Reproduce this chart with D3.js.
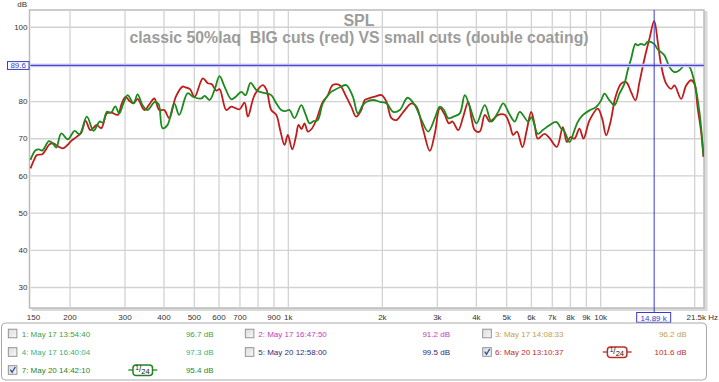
<!DOCTYPE html>
<html><head><meta charset="utf-8">
<script src="https://cdn.jsdelivr.net/npm/d3@7"></script>
<style>
html,body{margin:0;padding:0;background:#fff;}
svg{display:block;font-family:"Liberation Sans",Arial,sans-serif;}
</style></head><body>
<svg id="chart" width="719" height="382"></svg>
<script>
// ---------- data ----------
const redFreq=[150,154,157.2,163.6,167.6,172.7,177.8,183.1,190.5,197.1,202.6,210.2,218.1,225.1,233.1,239.7,244.1,252.7,263.4,272,285.6,293.5,302.3,311.3,320.7,330.3,347,360.8,373.5,387.5,402.1,417.2,438,460.2,470.4,486.3,502.6,534.5,554.5,570,590,604.4,635,658.9,680.1,700.6,726.8,744.7,782.3,831.8,854.7,885,918.2,947.6,975.9,1000,1033,1064,1082,1106,1131,1159,1191,1233,1294,1340,1393,1464,1538,1596,1655,1718,1764,1826,1899,1995,2070,2147,2228,2329,2489,2582,2713,2848,2956,3067,3181,3277,3367,3512,3643,3780,3873,3968,4117,4272,4432,4553,4716,4950,5136,5265,5415,5640,5808,6012,6161,6315,6632,6882,7265,7594,7821,8035,8275,8585,8844,9243,9824,10148,10452,10790,11194,11674,12112,12564,12972,13361,13862,14381,14890,15290,15679,16268,16877,17290,18167,18850,19556,20035,20530,21051,21410];
const redDb=[61.9,64.2,65.5,65.7,66.8,68.4,68.6,67.9,67.3,68.2,69.3,70.3,71.5,74.7,72.2,73.0,73.6,72.7,76.7,76.9,76.3,79.2,81.1,80.0,79.4,80.6,77.6,79.2,80.7,77.6,77.6,75.4,81.2,83.9,83.7,83.2,81.1,86.1,84.8,84.6,82.8,83.2,77.6,78.5,78.1,77.8,79.6,75.8,81.6,84.3,83.0,77.6,76.3,71.8,68.2,70.9,67.0,70.9,73.6,72.5,74.0,71.8,72.5,74.9,79.8,81.4,84.3,84.3,81.2,78.5,75.8,77.6,80.3,80.8,81.2,81.6,79.8,75.4,74.9,76.8,79.4,78.5,72.2,66.6,71.3,78.1,76.3,74.0,74.5,72.2,75.8,79.8,75.4,72.2,71.8,76.3,74.5,75.2,76.3,76.3,73.6,70.9,71.8,67.6,71.8,77.1,73.9,69.9,71.2,70.1,67.7,73.0,69.0,70.3,69.9,72.6,69.9,74.8,78.0,75.3,70.8,74.4,81.1,84.7,85.1,82.4,80.2,85.1,91.4,96.8,101.6,95.9,89.6,84.7,83.3,84.2,80.6,84.2,85.6,84.6,78.0,71.7,65.0];
const greenFreq=[150,155.7,159.6,163.6,171.8,176.9,181.4,188.2,197.6,207.6,215.4,227.3,238.8,249.6,255.7,263.4,272,280.2,288.6,297.9,306.9,320.7,330.3,342.7,355.6,375.2,385.6,397.1,412,432.9,449.1,477.5,499,528.3,541.3,561.5,582.6,604.4,627.1,658.9,680.1,709.3,732.2,759.7,792.2,817.8,853,885,918.2,952.6,981.1,1012,1050,1104,1139,1174,1209,1247,1294,1360,1411,1475,1538,1615,1675,1738,1786,1877,1971,2070,2175,2283,2417,2551,2679,2815,2956,3067,3162,3262,3392,3553,3687,3825,4018,4272,4487,4716,4893,5136,5329,5529,5882,6027,6315,6552,6882,7233,7504,7688,7976,8275,8479,8797,9243,9710,10074,10323,10710,11111,11528,11960,12253,12564,12972,13195,13528,13862,14204,14890,15258,16063,16666,17290,17938,18750,19311,20035,20788,21410];
const greenDb=[64.2,66.8,67.0,66.7,69.2,68.6,67.5,71.3,69.7,72.0,71.1,75.8,72.0,74.5,74.2,77.1,76.9,78.6,76.7,79.5,81.6,79.4,81.8,78.9,77.6,79.8,79.2,72.7,73.6,79.4,76.3,82.1,81.1,80.7,81.4,80.3,83.0,86.7,83.9,80.5,81.1,82.5,81.6,84.9,83.0,82.4,82.1,81.6,79.4,77.6,77.3,77.6,75.4,78.9,76.5,74.0,74.6,74.9,79.4,82.1,83.0,83.8,84.3,81.2,76.7,78.9,79.8,80.3,79.8,79.4,77.1,77.6,80.9,78.9,74.9,71.8,75.4,78.5,77.6,75.4,75.8,76.7,81.6,78.5,74.0,78.9,74.5,77.1,79.4,76.3,74.5,77.1,74.5,75.7,71.2,72.2,73.5,74.4,72.6,71.8,69.0,72.2,74.4,76.2,77.5,78.4,80.2,82.0,80.2,78.9,82.0,84.7,88.3,91.4,95.4,95.0,95.4,95.1,96.0,95.4,94.0,92.3,89.2,87.8,88.3,89.8,89.2,85.1,77.1,65.4];

const gridFreqs=[200,300,400,500,600,700,800,900,1000,2000,3000,4000,5000,6000,7000,8000,9000,10000,20000];
const xTickValues=[150,200,300,400,500,600,700,900,1000,2000,3000,4000,5000,6000,7000,8000,9000,10000];
const xTickLabels=["150","200","300","400","500","600","700","900","1k","2k","3k","4k","5k","6k","7k","8k","9k","10k"];
const yTickValues=[30,40,50,60,70,80,90,100];
const yTickLabels=["30","40","50","60","70","80","","100"];
const cursorFreq=14890, cursorDb=89.6;
const cursorFreqLabel="14.89 k", cursorDbLabel="89.6";
const titleText="SPL";
const subtitleText="classic 50%laq  BIG cuts (red) VS small cuts (double coating)";

const legendLabels=["1: May 17 13:54:40","2: May 17 16:47:50","3: May 17 14:08:33","4: May 17 16:40:04","5: May 20 12:58:00","6: May 20 13:10:37","7: May 20 14:42:10"];
const legendValues=["96.7 dB","91.2 dB","96.2 dB","97.3 dB","99.5 dB","101.6 dB","95.4 dB"];
const legendColors=["#3f9f3f","#c03cc0","#c4a048","#3cb07c","#2c2c78","#c02c2c","#1f861f"];
const legendChecked=[false,false,false,false,false,true,true];
const legendSmoothing=["","","","","","1/24","1/24"];

const redColor="#c01c1c", greenColor="#1c8a1c", cursorColor="#3a3acc";

// ---------- layout ----------
const svg=d3.select("#chart");
const plot={l:30.5,r:704,t:10,b:308};
const x=d3.scaleLog().domain([150,21500]).range([plot.l,plot.r]);
const y=d3.scaleLinear().domain([24.35,104.5]).range([plot.b,plot.t]);

// frame shadow
svg.append("rect").attr("x",plot.l+1).attr("y",plot.t+1).attr("width",plot.r-plot.l+2.5).attr("height",plot.b-plot.t+2)
  .attr("fill","#dadada");
svg.append("rect").attr("x",plot.l-1).attr("y",plot.t).attr("width",plot.r-plot.l+1).attr("height",plot.b-plot.t)
  .attr("fill","#fff").attr("stroke","#bcbcbc").attr("stroke-width",1.5);

// grids
const gGrid=svg.append("g").attr("transform",`translate(0,${plot.b})`)
  .call(d3.axisBottom(x).tickValues(gridFreqs).tickSize(-(plot.b-plot.t)).tickFormat(""));
gGrid.select(".domain").remove();
gGrid.selectAll("line").attr("stroke","#d2d2d2").attr("stroke-width",1.3);
const gGridY=svg.append("g").attr("transform",`translate(${plot.l},0)`)
  .call(d3.axisLeft(y).tickValues(yTickValues).tickSize(-(plot.r-plot.l)).tickFormat(""));
gGridY.select(".domain").remove();
gGridY.selectAll("line").attr("stroke","#d2d2d2").attr("stroke-width",1.3);

// axis labels
const gx=svg.append("g").attr("transform",`translate(0,${plot.b})`)
  .call(d3.axisBottom(x).tickValues(xTickValues).tickSize(0).tickFormat((d,i)=>xTickLabels[i]));
gx.select(".domain").remove();
gx.selectAll("text").attr("y",11.5).attr("dy",0).attr("font-size",8).attr("fill","#333")
  .attr("font-family","'Liberation Sans',Arial,sans-serif")
  .attr("dx",(d,i)=>i===0?2.5:0);
svg.append("text").attr("x",686.5).attr("y",319.5).attr("font-size",8).attr("fill","#333").text("21.5k Hz");

const gy=svg.append("g").attr("transform",`translate(${plot.l-3},0)`)
  .call(d3.axisLeft(y).tickValues(yTickValues).tickSize(0).tickFormat((d,i)=>yTickLabels[i]));
gy.select(".domain").remove();
gy.selectAll("text").attr("font-size",8).attr("fill","#333").attr("x",0)
  .attr("font-family","'Liberation Sans',Arial,sans-serif");
svg.append("text").attr("x",27).attr("y",7).attr("text-anchor","end").attr("font-size",8).attr("fill","#333").text("dB");

// titles
svg.append("text").attr("x",359).attr("y",26).attr("text-anchor","middle").attr("font-size",16).attr("font-weight","bold")
  .attr("fill","#9c9c9c").text(titleText);
svg.append("text").attr("x",359).attr("y",42.5).attr("text-anchor","middle").attr("font-size",15.8).attr("font-weight","bold")
  .attr("fill","#9c9c9c").style("white-space","pre").text(subtitleText);

// curves
const line=d3.line().curve(d3.curveCatmullRom.alpha(0.5));
const redPts=redFreq.map((f,i)=>[x(f),y(redDb[i])]);
const greenPts=greenFreq.map((f,i)=>[x(f),y(greenDb[i])]);
svg.append("clipPath").attr("id","pc").append("rect")
  .attr("x",plot.l-1).attr("y",plot.t).attr("width",plot.r-plot.l+1).attr("height",plot.b-plot.t);
svg.append("path").attr("d",line(redPts)).attr("fill","none").attr("stroke",redColor).attr("stroke-width",1.8).attr("clip-path","url(#pc)");
svg.append("path").attr("d",line(greenPts)).attr("fill","none").attr("stroke",greenColor).attr("stroke-width",1.8).attr("clip-path","url(#pc)");

// cursors
const cy=y(cursorDb), cx=x(cursorFreq);
svg.append("line").attr("x1",plot.l).attr("x2",plot.r).attr("y1",cy).attr("y2",cy)
  .attr("stroke","#c8c8f0").attr("stroke-width",3.5);
svg.append("line").attr("x1",plot.l).attr("x2",plot.r).attr("y1",cy).attr("y2",cy)
  .attr("stroke",cursorColor).attr("stroke-width",1);
svg.append("line").attr("x1",cx).attr("x2",cx).attr("y1",plot.t).attr("y2",313)
  .attr("stroke",cursorColor).attr("stroke-width",1);
svg.append("rect").attr("x",7.5).attr("y",cy-3.8).attr("width",21.5).attr("height",7.8)
  .attr("fill","#fff").attr("stroke",cursorColor).attr("stroke-width",1);
svg.append("text").attr("x",18.2).attr("y",cy+3).attr("text-anchor","middle").attr("font-size",8).attr("fill",cursorColor).text(cursorDbLabel);
svg.append("rect").attr("x",cx-17.5).attr("y",312.5).attr("width",34).attr("height",9.8)
  .attr("fill","#fff").attr("stroke",cursorColor).attr("stroke-width",1);
svg.append("text").attr("x",cx-0.5).attr("y",320.5).attr("text-anchor","middle").attr("font-size",8).attr("fill",cursorColor).text(cursorFreqLabel);

// legend
svg.append("rect").attr("x",1.5).attr("y",323).attr("width",705).attr("height",57).attr("rx",4)
  .attr("fill","#fff").attr("stroke","#a8a8a8").attr("stroke-width",1);
const defs=svg.append("defs");
const grad=defs.append("linearGradient").attr("id","cbg").attr("x1",0).attr("y1",0).attr("x2",1).attr("y2",1);
grad.append("stop").attr("offset","0%").attr("stop-color","#dcdcdc");
grad.append("stop").attr("offset","100%").attr("stop-color","#f8f8f8");
const colX=[8.3,245.3,482.7], textX=[21.7,258.3,495], valX=[213.5,450,686.5], iconX=[128.3,365,602.7];
const rowY=[333.5,352,370];
const items=svg.append("g").selectAll("g").data(legendLabels.map((d,i)=>({label:d,i:i}))).join("g")
  .attr("transform",d=>`translate(0,${rowY[Math.floor(d.i/3)]})`);
items.append("rect").attr("x",d=>colX[d.i%3]).attr("y",-4.3).attr("width",8.6).attr("height",8.6)
  .attr("fill","url(#cbg)").attr("stroke","#8a8a8a").attr("stroke-width",0.9);
items.filter(d=>legendChecked[d.i]).append("path")
  .attr("d",d=>{const c=colX[d.i%3];return `M${c+2},${-0.3} L${c+3.8},${2.3} L${c+7},${-3}`;})
  .attr("fill","none").attr("stroke","#2b4fa8").attr("stroke-width",1.4);
items.append("text").attr("x",d=>textX[d.i%3]).attr("y",3).attr("font-size",8)
  .attr("fill",d=>legendColors[d.i]).text(d=>d.label);
items.append("text").attr("x",d=>valX[d.i%3]).attr("y",3).attr("font-size",8).attr("text-anchor","end")
  .attr("fill",d=>legendColors[d.i]).text(d=>legendValues[d.i]);
const icons=items.filter(d=>legendSmoothing[d.i]!=="").append("g")
  .attr("transform",d=>`translate(${iconX[d.i%3]},0)`);
icons.each(function(d){
  const g=d3.select(this), c=legendColors[d.i];
  g.append("line").attr("x1",0).attr("x2",29).attr("y1",0).attr("y2",0).attr("stroke",c).attr("stroke-width",1.3);
  g.append("rect").attr("x",4.7).attr("y",-5).attr("width",19.5).attr("height",10.5).attr("rx",3)
    .attr("fill","#fff").attr("stroke",c).attr("stroke-width",1.5);
  const t=g.append("text").attr("x",7).attr("y",2).attr("font-size",8).attr("fill","#111");
  const parts=legendSmoothing[d.i].split("/");
  t.append("tspan").attr("font-size",6.5).attr("dy",-2).text(parts[0]);
  t.append("tspan").attr("font-size",8.5).attr("dy",1.5).text("/");
  t.append("tspan").attr("font-size",7.5).attr("dy",2).text(parts[1]);
});
</script>
</body></html>
